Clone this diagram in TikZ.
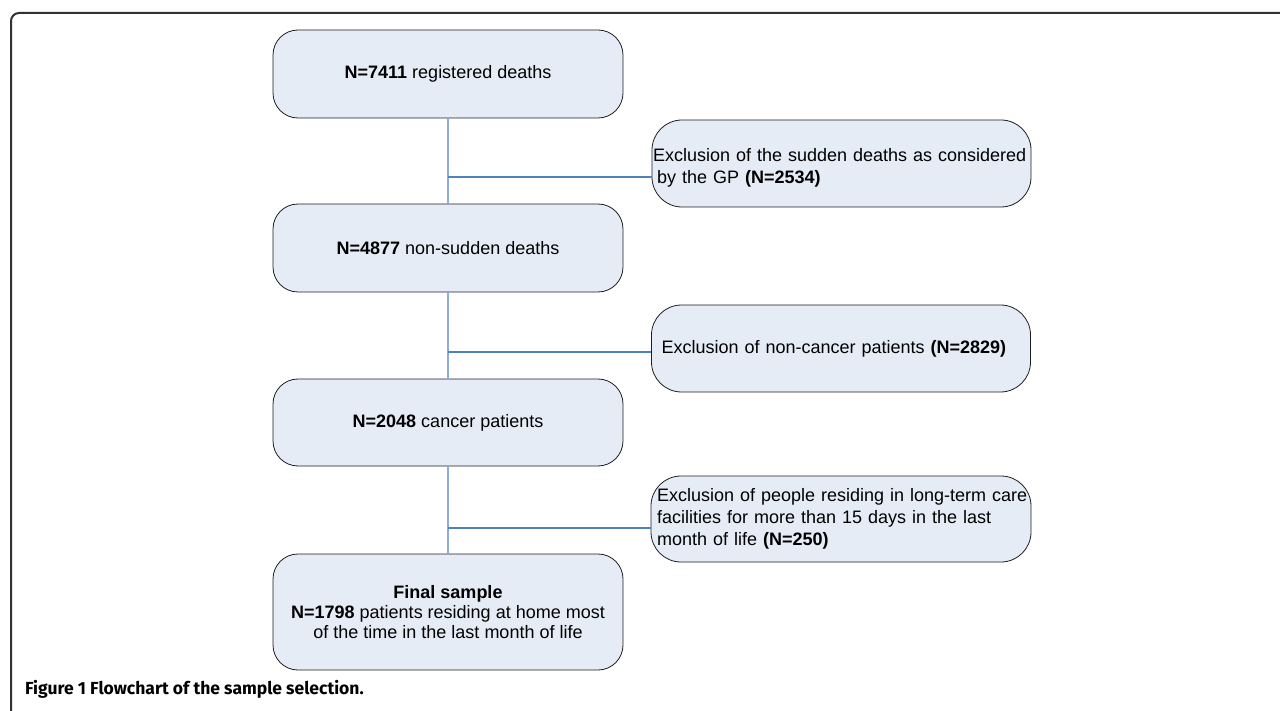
\documentclass[tikz,border=0pt]{standalone}
\usepackage{fontspec}
\setmainfont{Liberation Sans}
\newfontfamily\capfont{Fira Sans}
\usetikzlibrary{positioning}

\definecolor{boxfill}{RGB}{230,236,246}
\definecolor{boxline}{RGB}{30,30,30}
\definecolor{trunkblue}{RGB}{141,172,220}
\definecolor{branchblue}{RGB}{79,129,189}
\definecolor{framegray}{RGB}{50,50,50}

\tikzset{
	stage/.style={draw=boxline, fill=boxfill, line width=0.8pt, rounded corners=25pt,
		minimum width=350pt, minimum height=88pt, inner sep=1pt, align=center,
		font=\fontsize{18}{20}\selectfont},
	excl/.style={draw=boxline, fill=boxfill, line width=0.8pt, rounded corners=30pt,
		text width=377pt, minimum height=87pt, inner sep=1pt, align=left,
		font=\fontsize{18}{22}\selectfont},
	trunk/.style={draw=trunkblue, line width=1.2pt},
	branch/.style={draw=branchblue, line width=1.2pt},
	frame/.style={draw=framegray, line width=2pt, rounded corners=8pt},
	caption/.style={inner sep=0pt, font=\capfont\bfseries\fontsize{17.5}{20}\selectfont}
}

\begin{document}
\begin{tikzpicture}[x=1pt,y=-1pt]
	\useasboundingbox (0,0) rectangle (1280,711);
	
	%Shape: outer frame
	\draw[frame] (11,740) -- (11,13) -- (1300,13);
	
	%Shape: main boxes
	\node[stage] (reg) at (448,74) {\textbf{N=7411} registered deaths};
	\node[stage] (nonsud) at (448,248) {\textbf{N=4877} non-sudden deaths};
	\node[stage, minimum height=87pt] (cancer) at (448,422.5) {\textbf{N=2048} cancer patients};
	\node[stage, minimum height=116pt] (final) at (448,612) {\textbf{Final sample}\\\textbf{N=1798} patients residing at home most\\of the time in the last month of life};
	
	%Shape: exclusion boxes
	\node[excl] (exsud) at (841.5,163.5) {\rule{0pt}{22pt}Exclusion of the sudden deaths as considered\\\hspace*{4pt}by the GP \textbf{(N=2534)}};
	\node[excl] (exnon) at (841,348.5) {\hspace*{9pt}Exclusion of non-cancer patients \textbf{(N=2829)}};
	\node[excl, minimum height=86pt, text width=378pt] (exltc) at (841,519) {\hspace*{5pt}Exclusion of people residing in long-term care\\\hspace*{5pt}facilities for more than 15 days in the last\\\hspace*{5pt}month of life \textbf{(N=250)}};
	
	%Straight Lines: trunk
	\draw[trunk] (reg.south) -- (nonsud.north);
	\draw[trunk] (nonsud.south) -- (cancer.north);
	\draw[trunk] (cancer.south) -- (final.north);
	
	%Straight Lines: branches
	\coordinate (jsud) at (448,177);
	\coordinate (jnon) at (448,352);
	\coordinate (jltc) at (448,528);
	\draw[branch] (jsud) -- (jsud -| exsud.west);
	\draw[branch] (jnon) -- (jnon -| exnon.west);
	\draw[branch] (jltc) -- (jltc -| exltc.west);
	
	% Text Node
	\node[caption, anchor=base west] (cap) at (25,694) {Figure 1 Flowchart of the sample selection.};
	
\end{tikzpicture}
\end{document}
